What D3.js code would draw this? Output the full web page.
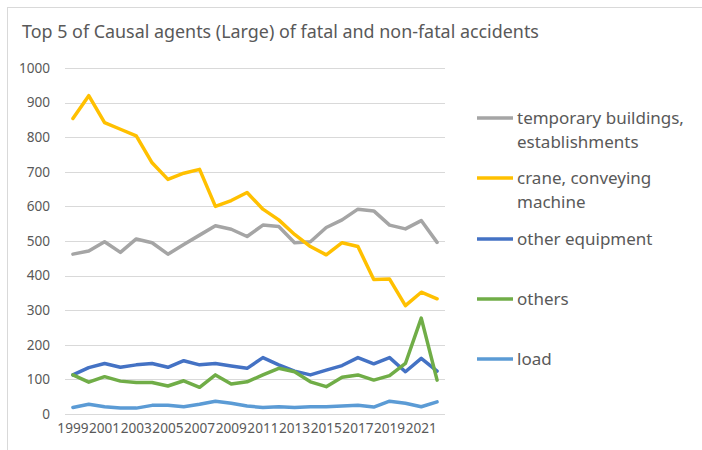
<!DOCTYPE html>
<html>
<head>
<meta charset="utf-8">
<script src="https://cdn.jsdelivr.net/npm/d3@7"></script>
<style>
    body { margin: 0; background: #fff; }
    text { font-family: "Noto Sans", "Open Sans", sans-serif; fill: #595959; }
</style>
</head>
<body>
<div id="chart"></div>
<script>
// data
let years = d3.range(1999, 2023).map(String)
let xTickLabels = ["1999", "2001", "2003", "2005", "2007", "2009", "2011", "2013", "2015", "2017", "2019", "2021"]
let yTicks = [0, 100, 200, 300, 400, 500, 600, 700, 800, 900, 1000]

let temporaryBuildings = [462, 471, 498, 467, 506, 495, 462, 490, 517, 544, 534, 513, 546, 542, 495, 498, 539, 561, 592, 587, 546, 535, 559, 496]
let crane = [854, 920, 842, 823, 804, 726, 678, 696, 707, 600, 617, 640, 592, 561, 519, 484, 460, 495, 484, 389, 390, 313, 352, 333]
let otherEquipment = [113, 134, 146, 135, 142, 146, 135, 154, 142, 146, 139, 132, 163, 142, 124, 113, 127, 140, 163, 145, 163, 122, 161, 124]
let others = [113, 92, 108, 95, 91, 91, 81, 96, 77, 113, 87, 93, 113, 132, 122, 93, 79, 106, 113, 98, 111, 146, 277, 98]
let load = [19, 28, 21, 17, 17, 25, 25, 21, 28, 37, 31, 23, 19, 21, 19, 21, 21, 23, 25, 20, 37, 31, 21, 35]

let seriesNames = ["temporary buildings, establishments", "crane, conveying machine", "other equipment", "others", "load"]
let seriesColors = ["#A5A5A5", "#FFC000", "#4472C4", "#70AD47", "#5B9BD5"]
let seriesValues = [temporaryBuildings, crane, otherEquipment, others, load]

// set the dimensions and margins of the graph
let W = 702, H = 450
let margin = { top: 68, right: 257, bottom: 36, left: 65 },
    width = W - margin.left - margin.right,
    height = H - margin.top - margin.bottom;

let root = d3.select("#chart")
    .append("svg")
    .attr("width", W)
    .attr("height", H)

// chart frame
root.append("rect")
    .attr("x", 7.5)
    .attr("y", 7.5)
    .attr("width", W)
    .attr("height", H)
    .attr("fill", "none")
    .attr("stroke", "#D9D9D9")

root.append("text")
    .attr("x", 22)
    .attr("y", 38)
    .style("font-size", "17.9px")
    .text("Top 5 of Causal agents (Large) of fatal and non-fatal accidents")

let svg = root.append("g")
    .attr("transform", "translate(" + margin.left + "," + margin.top + ")");

// X scale
let x = d3.scaleBand()
    .domain(years)
    .range([0, width])
    .padding(0)

// Y scale
let y = d3.scaleLinear()
    .domain([0, 1000])
    .range([height, 0]);

// gridlines
svg.append("g")
    .selectAll("line")
    .data(yTicks)
    .enter()
    .append("line")
    .attr("x1", 0)
    .attr("x2", width)
    .attr("y1", d => Math.round(y(d)) + 0.5)
    .attr("y2", d => Math.round(y(d)) + 0.5)
    .attr("stroke", "#D9D9D9")
    .attr("stroke-width", 1)

// Y axis labels
let yAxis = svg.append("g")
    .call(d3.axisLeft(y).tickValues(yTicks).tickFormat(d3.format("d")).tickSize(0).tickPadding(15))
yAxis.select(".domain").remove()
yAxis.selectAll("text")
    .style("font-size", "13.6px")
    .style("font-family", "'Noto Sans', sans-serif")
    .attr("fill", "#595959")

// X axis labels (every other year)
let xAxis = svg.append("g")
    .attr("transform", "translate(0," + height + ")")
    .call(d3.axisBottom(x).tickValues(xTickLabels).tickSize(0).tickPadding(9))
xAxis.select(".domain").remove()
xAxis.selectAll("text")
    .style("font-size", "13.6px")
    .style("font-family", "'Noto Sans', sans-serif")
    .attr("fill", "#595959")

// lines
let line = d3.line()
    .x((d, i) => x(years[i]) + x.bandwidth() / 2)
    .y(d => y(d))

svg.append("g")
    .selectAll("path")
    .data(seriesValues)
    .enter()
    .append("path")
    .attr("d", d => line(d))
    .attr("fill", "none")
    .attr("stroke", (d, i) => seriesColors[i])
    .attr("stroke-width", 3.5)
    .attr("stroke-linejoin", "round")
    .attr("stroke-linecap", "round")

// ---------------------------//
//       LEGEND              //
// ---------------------------//
let legendRows = [
    ["temporary buildings,", "establishments"],
    ["crane, conveying", "machine"],
    ["other equipment"],
    ["others"],
    ["load"]
]
let legendY = [118, 178, 239, 299, 359]

let legend = root.append("g")
    .selectAll("g")
    .data(seriesNames)
    .enter()
    .append("g")
    .attr("transform", (d, i) => "translate(477," + legendY[i] + ")")

legend.append("line")
    .attr("x1", 0)
    .attr("x2", 36)
    .attr("y1", 0)
    .attr("y2", 0)
    .attr("stroke", (d, i) => seriesColors[i])
    .attr("stroke-width", 3.5)

legend.each(function (d, i) {
    d3.select(this).selectAll("text")
        .data(legendRows[i])
        .enter()
        .append("text")
        .attr("x", 40)
        .attr("y", (t, j) => j * 24)
        .attr("dy", "0.35em")
        .style("font-size", "17px")
        .text(t => t)
})
</script>
</body>
</html>
